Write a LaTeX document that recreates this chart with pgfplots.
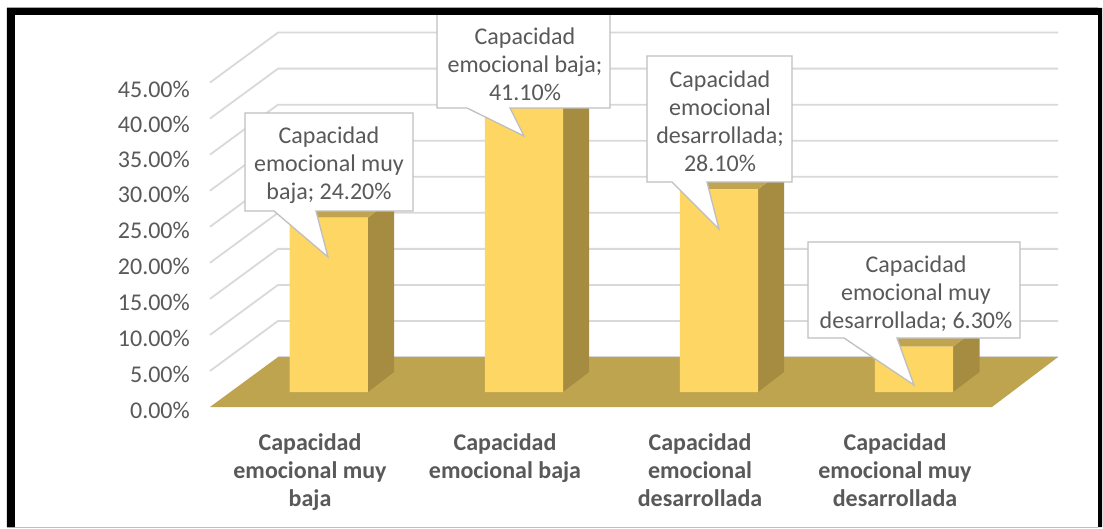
\documentclass[border=0pt]{standalone}
\usepackage{pgfplots}
\pgfplotsset{compat=1.18}
\usepackage{fontspec}
\setmainfont{Carlito}
\definecolor{txt}{HTML}{595959}
\definecolor{gridc}{HTML}{D9D9D9}
\definecolor{front}{HTML}{FDD663}
\definecolor{sidec}{HTML}{A58C40}
\definecolor{topc}{HTML}{C1A44F}
\definecolor{floorc}{HTML}{BFA44F}
\definecolor{edge}{HTML}{BFBFBF}
\begin{document}
\begin{tikzpicture}
\fill[white] (-210pt,-118.84pt) rectangle (893pt,409.16pt);
\begin{axis}[
  scale only axis, width=850pt, height=326.61pt,
  xmin=210, xmax=1060, ymin=-0.3, ymax=45,
  clip=false, axis line style={draw=none}, tick style={draw=none},
  major tick length=0pt,
  xtick={310,505,700,895},
  xticklabels={{Capacidad\\emocional muy\\baja},{Capacidad\\emocional baja},{Capacidad\\emocional\\desarrollada},{Capacidad\\emocional muy\\desarrollada}},
  xticklabel style={align=center,anchor=north,text=txt,font=\fontsize{24}{28}\selectfont\bfseries,yshift=-21pt},
  ytick={-0.28,4.72,9.71,14.7,19.7,24.7,29.7,34.5,39.3,44.2},
  yticklabels={0.00\%,5.00\%,10.00\%,15.00\%,20.00\%,25.00\%,30.00\%,35.00\%,40.00\%,45.00\%},
  yticklabel style={anchor=east,text=txt,font=\fontsize{24}{28}\selectfont,inner sep=0pt,xshift=-20pt,yshift=-1.2pt},
]
% gridlines: side wall and back wall
\addplot[gridc,line width=1.8pt] coordinates {(210,5)(278,11.93)(1058,11.93)};
\addplot[gridc,line width=1.8pt] coordinates {(210,10)(278,16.93)(1058,16.93)};
\addplot[gridc,line width=1.8pt] coordinates {(210,15)(278,21.93)(1058,21.93)};
\addplot[gridc,line width=1.8pt] coordinates {(210,20)(278,26.93)(1058,26.93)};
\addplot[gridc,line width=1.8pt] coordinates {(210,25)(278,31.93)(1058,31.93)};
\addplot[gridc,line width=1.8pt] coordinates {(210,30)(278,36.93)(1058,36.93)};
\addplot[gridc,line width=1.8pt] coordinates {(210,35)(278,41.93)(1058,41.93)};
\addplot[gridc,line width=1.8pt] coordinates {(210,40)(278,46.93)(1058,46.93)};
\addplot[gridc,line width=1.8pt] coordinates {(210,45)(278,51.93)(1058,51.93)};
% floor
\addplot[gridc,line width=1.5pt] coordinates {(278,6.93)(1058,6.93)};
\addplot[draw=none,fill=floorc] coordinates {(210,0)(992,0)(1058,6.93)(278,6.93)} -- cycle;
% side faces
\addplot[draw=none,fill=sidec] coordinates {(368,2.08)(394,4.85)(394,29.05)(368,26.28)} -- cycle;
\addplot[draw=none,fill=sidec] coordinates {(563,2.08)(589,4.85)(589,45.95)(563,43.18)} -- cycle;
\addplot[draw=none,fill=sidec] coordinates {(758,2.08)(784,4.85)(784,32.95)(758,30.18)} -- cycle;
\addplot[draw=none,fill=sidec] coordinates {(953,2.08)(979.5,4.85)(979.5,11.15)(953,8.38)} -- cycle;
% top faces
\addplot[draw=none,fill=topc] coordinates {(289.5,26.28)(368,26.28)(394,29.05)(315.5,29.05)} -- cycle;
\addplot[draw=none,fill=topc] coordinates {(485,43.18)(563,43.18)(589,45.95)(511,45.95)} -- cycle;
\addplot[draw=none,fill=topc] coordinates {(680,30.18)(758,30.18)(784,32.95)(706,32.95)} -- cycle;
\addplot[draw=none,fill=topc] coordinates {(875,8.38)(953,8.38)(979.5,11.15)(901,11.15)} -- cycle;
% front faces: the values, raised to the base of the bars on the floor
\addplot[ybar,bar width=78.3pt,bar shift=0pt,draw=none,fill=front,yshift=15pt]
  coordinates {(328.8,24.2)(523.9,41.1)(719,28.1)(914,6.3)};
\end{axis}
\begin{scope}[shift={(-210pt,409.16pt)},x=1pt,y=-1pt]
  \tikzset{call/.style={fill=white,draw=edge,line width=1.3pt,line join=miter},
           lab/.style={text=txt,align=center,inner sep=0pt,font=\fontsize{24}{28}\selectfont}}
  \draw[call] (245,113)--(413,113)--(413,211)--(316,211)--(328,257)--(274,211)--(245,211)--cycle;
  \node[lab] at (329,165.5) {Capacidad\\emocional muy\\baja; 24.20\%};
  \draw[call] (437,10)--(610,10)--(610,108)--(510,108)--(524,136)--(467,108)--(437,108)--cycle;
  \node[lab] at (525,64) {Capacidad\\emocional baja;\\41.10\%};
  \draw[call] (647,56)--(792,56)--(792,182)--(707,182)--(719,229)--(672,182)--(647,182)--cycle;
  \node[lab] at (720,121.5) {Capacidad\\emocional\\desarrollada;\\28.10\%};
  \draw[call] (808,242)--(1020,242)--(1020,338)--(897,338)--(914,385)--(844,338)--(808,338)--cycle;
  \node[lab] at (916,294) {Capacidad\\emocional muy\\desarrollada; 6.30\%};
  % frame
  \fill[white] (0,0) rectangle (1103,7.5);
  \draw[edge,line width=0.8pt] (7,7.5)--(1098,7.5);
  \draw[edge,line width=1pt] (7,527)--(1098,527);
  \fill[black] (7,8)--(1102,8)--(1102,527)--(1098,527)--(1098,15)--(15,15)--(15,527)--(7,527)--cycle;
  \path (0,0) rectangle (1103,528);
\end{scope}
\end{tikzpicture}
\end{document}
